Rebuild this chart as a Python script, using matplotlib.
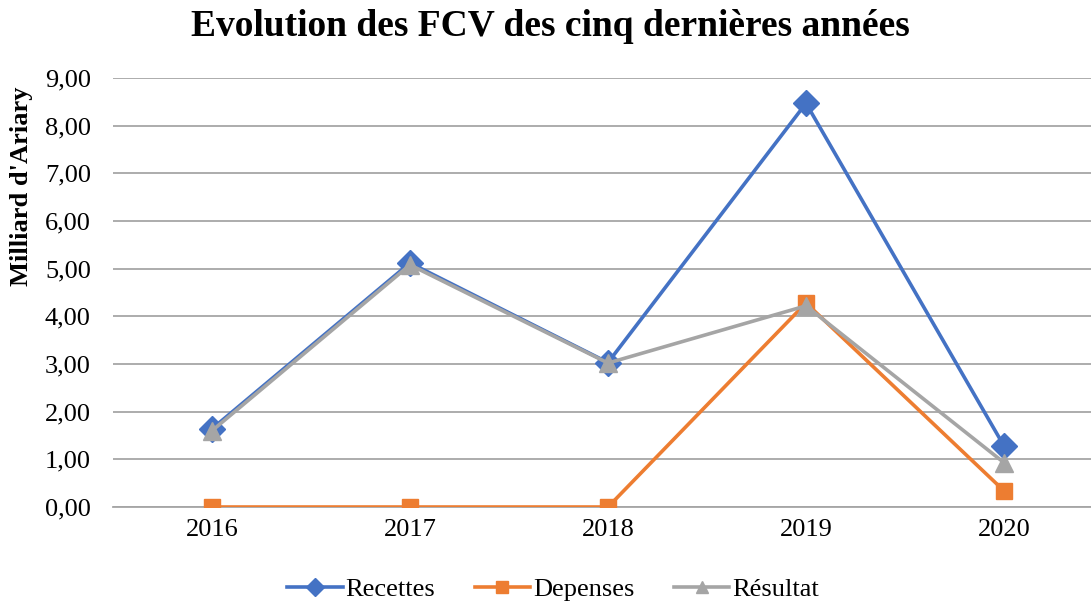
import matplotlib
matplotlib.use("Agg")
import matplotlib.pyplot as plt
from matplotlib.ticker import FuncFormatter, MultipleLocator

# data (milliards d'Ariary)
years = ["2016", "2017", "2018", "2019", "2020"]
recettes = [1.64, 5.12, 3.03, 8.47, 1.28]
depenses = [0.0, 0.0, 0.0, 4.28, 0.34]
resultat = [1.60, 5.08, 3.02, 4.22, 0.93]

plt.rcParams["font.family"] = ["Liberation Serif", "DejaVu Serif"]

fig = plt.figure(figsize=(10.91, 6.04), dpi=100)
# plot area: starts at x=113px, category width 198px (right side is cut by the image)
ax = fig.add_axes([113 / 1091, 1 - 507 / 604, 990 / 1091, 429 / 604])

xs = range(len(years))
ax.plot(xs, recettes, color="#4472C4", lw=2.6, marker="D", ms=13, label="Recettes", zorder=3)
ax.plot(xs, depenses, color="#ED7D31", lw=2.6, marker="s", ms=12, label="Depenses", zorder=4)
ax.plot(xs, resultat, color="#A5A5A5", lw=2.6, marker="^", ms=13, label="Résultat", zorder=5)

ax.set_xlim(-0.5, 4.5)
ax.set_ylim(0, 9)
ax.yaxis.set_major_locator(MultipleLocator(1))
ax.yaxis.set_major_formatter(FuncFormatter(lambda v, p: f"{v:.2f}".replace(".", ",")))
ax.set_xticks(list(xs))
ax.set_xticklabels(years)
ax.tick_params(axis="both", length=0, labelsize=19, colors="black")
ax.tick_params(axis="x", pad=9)
ax.tick_params(axis="y", pad=16)

ax.grid(axis="y", color="#A6A6A6", lw=1.3)
ax.set_axisbelow(True)
for s in ["top", "right", "left"]:
    ax.spines[s].set_visible(False)
ax.spines["bottom"].set_color("#A6A6A6")
ax.spines["bottom"].set_linewidth(1.3)
ax.spines["bottom"].set_zorder(1)

# y label sits high, next to the upper ticks
fig.text(22 / 1091, 1 - 186 / 604, "Milliard d'Ariary", rotation=90,
         ha="center", va="center", fontsize=19, fontweight="bold")

fig.text(550 / 1091, 1 - 26 / 604, "Evolution des FCV des cinq dernières années",
         ha="center", va="center", fontsize=27, fontweight="bold")

fig.legend(loc="center", bbox_to_anchor=(553 / 1091, 1 - 589 / 604), ncol=3,
           frameon=False, fontsize=19, handlelength=2.1, columnspacing=1.5,
           handletextpad=0.1, markerscale=0.7)

fig.savefig("out.png", dpi=100)
